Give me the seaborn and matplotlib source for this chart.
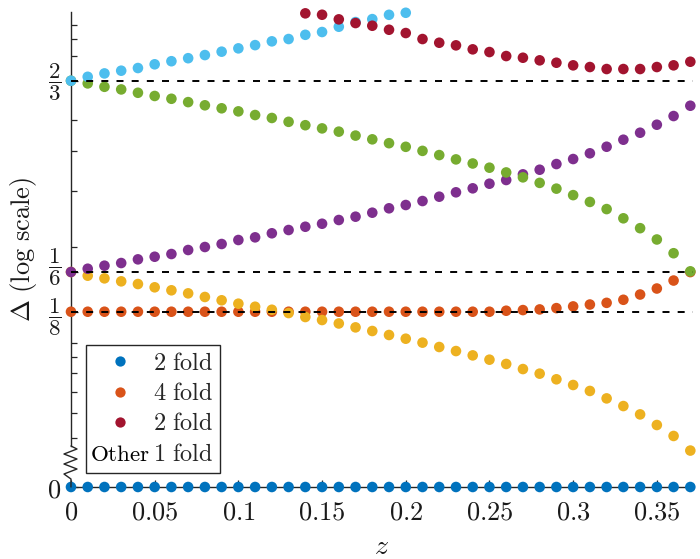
import numpy as np
import pandas as pd
import matplotlib
matplotlib.use("Agg")
import matplotlib.pyplot as plt
import seaborn as sns
from matplotlib.lines import Line2D
from matplotlib.text import Text
from matplotlib.legend_handler import HandlerBase
from matplotlib.ticker import FixedLocator, NullFormatter
from matplotlib.transforms import ScaledTranslation

# ---------------- data ----------------
z = [0.00, 0.01, 0.02, 0.03, 0.04, 0.05, 0.06, 0.07, 0.08, 0.09,
     0.10, 0.11, 0.12, 0.13, 0.14, 0.15, 0.16, 0.17, 0.18, 0.19,
     0.20, 0.21, 0.22, 0.23, 0.24, 0.25, 0.26, 0.27, 0.28, 0.29,
     0.30, 0.31, 0.32, 0.33, 0.34, 0.35, 0.36, 0.37]

two_fold_zero = [0.0, 0.0, 0.0, 0.0, 0.0, 0.0, 0.0, 0.0, 0.0, 0.0,
                 0.0, 0.0, 0.0, 0.0, 0.0, 0.0, 0.0, 0.0, 0.0, 0.0,
                 0.0, 0.0, 0.0, 0.0, 0.0, 0.0, 0.0, 0.0, 0.0, 0.0,
                 0.0, 0.0, 0.0, 0.0, 0.0, 0.0, 0.0, 0.0]

four_fold = [0.125, 0.125, 0.125, 0.125, 0.125, 0.125, 0.125, 0.125, 0.125, 0.125,
             0.125, 0.125, 0.125, 0.125, 0.125, 0.125, 0.125, 0.125, 0.125, 0.125,
             0.125, 0.125, 0.125, 0.125, 0.125, 0.125, 0.1259, 0.1265, 0.1271, 0.1283,
             0.1299, 0.1317, 0.1333, 0.1363, 0.1416, 0.1479, 0.1567, 0.1666]

yellow_1fold = [0.1667, 0.1623, 0.1592, 0.1558, 0.1528, 0.1492, 0.1460, 0.1428, 0.1391, 0.1358,
                0.1325, 0.1296, 0.1268, 0.1238, 0.1203, 0.1177, 0.1148, 0.1116, 0.1087, 0.1056,
                0.1028, 0.0999, 0.0968, 0.0940, 0.0911, 0.0883, 0.0856, 0.0825, 0.0798, 0.0766,
                0.0735, 0.0704, 0.0667, 0.0631, 0.0594, 0.0550, 0.0508, 0.0457]

purple_1fold = [0.1667, 0.1707, 0.1745, 0.1779, 0.1827, 0.1862, 0.1899, 0.1955, 0.1998, 0.2042,
                0.2102, 0.2143, 0.2207, 0.2260, 0.2314, 0.2365, 0.2430, 0.2489, 0.2562, 0.2645,
                0.2709, 0.2788, 0.2877, 0.2970, 0.3057, 0.3161, 0.3247, 0.3383, 0.3498, 0.3645,
                0.3780, 0.3940, 0.4132, 0.4348, 0.4574, 0.4847, 0.5162, 0.5562]

green_1fold = [0.6667, 0.654, 0.638, 0.626, 0.611, 0.597, 0.585, 0.571, 0.558, 0.546,
               0.534, 0.520, 0.509, 0.495, 0.483, 0.472, 0.461, 0.448, 0.436, 0.424,
               0.413, 0.401, 0.389, 0.377, 0.366, 0.355, 0.343, 0.331, 0.318, 0.305,
               0.291, 0.277, 0.263, 0.246, 0.229, 0.211, 0.191, 0.1675]

z_lightblue = [0.00, 0.01, 0.02, 0.03, 0.04, 0.05, 0.06, 0.07, 0.08, 0.09,
               0.10, 0.11, 0.12, 0.13, 0.14, 0.15, 0.16, 0.17, 0.18, 0.19, 0.20]
lightblue_1fold = [0.6667, 0.686, 0.703, 0.717, 0.731, 0.751, 0.768, 0.785, 0.803, 0.823,
                   0.843, 0.863, 0.887, 0.902, 0.930, 0.949, 0.986, 1.020, 1.042, 1.075, 1.091]

z_red = [0.14, 0.15, 0.16, 0.17, 0.18, 0.19, 0.20, 0.21, 0.22, 0.23, 0.24, 0.25,
         0.26, 0.27, 0.28, 0.29, 0.30, 0.31, 0.32, 0.33, 0.34, 0.35, 0.36, 0.37]
red_2fold = [1.0865, 1.0755, 1.0402, 1.0127, 0.9931, 0.9647, 0.9420, 0.9019, 0.8780, 0.8616,
             0.8370, 0.8208, 0.7973, 0.7876, 0.7729, 0.7596, 0.7454, 0.7363, 0.7257, 0.7257,
             0.7257, 0.7363, 0.7454, 0.7651]

ref_levels = [2 / 3, 1 / 6, 1 / 8]
xtick_vals = [0, 0.05, 0.1, 0.15, 0.2, 0.25, 0.3, 0.35]
xtick_labels = ["$0$", "$0.05$", "$0.1$", "$0.15$", "$0.2$", "$0.25$", "$0.3$", "$0.35$"]
ytick_vals = [0, 1 / 8, 1 / 6, 2 / 3]
ytick_labels = ["$0$", r"$\dfrac{1}{8}$", r"$\dfrac{1}{6}$", r"$\dfrac{2}{3}$"]
yminor_vals = [0.05, 0.06, 0.07, 0.08, 0.09, 0.1, 0.2, 0.3, 0.4, 0.5, 0.8, 0.9, 1.0]
legend_labels = [r"$\mathrm{2\ fold}$", r"$\mathrm{4\ fold}$", r"$\mathrm{2\ fold}$", r"$\mathrm{1\ fold}$"]
other_label = r"$\mathrm{Other}$"

C_BLUE, C_ORANGE, C_YELLOW, C_PURPLE, C_GREEN, C_LBLUE, C_RED = (
    "#0072BD", "#D95319", "#EDB120", "#7E2F8E", "#77AC30", "#4DBEEE", "#A2142F")
AXC = "#262626"
TXC = "#1a1a1a"

# ---------------- style ----------------
sns.set_theme(style="white")
plt.rcParams["font.family"] = ["DejaVu Serif"]
plt.rcParams["mathtext.fontset"] = "cm"

fig = plt.figure(figsize=(7.0, 5.59), dpi=100)
ax = fig.add_axes([0.1014, 0.1288, 0.8886, 0.8497])

# broken log scale: log for v >= V0, short linear stretch down to 0
V0 = 0.045
GAP = 0.2486
LV0 = np.log(V0)


def fwd(v):
    v = np.asarray(v, dtype=float)
    return np.where(v >= V0, np.log(np.maximum(v, V0)), LV0 - GAP * (1 - v / V0))


def inv(y):
    y = np.asarray(y, dtype=float)
    return np.where(y >= LV0, np.exp(np.minimum(y, 50)), V0 * (1 - (LV0 - y) / GAP))


ax.set_yscale("function", functions=(fwd, inv))

S = 58
series = [
    (z, two_fold_zero, C_BLUE),
    (z, four_fold, C_ORANGE),
    (z, yellow_1fold, C_YELLOW),
    (z, purple_1fold, C_PURPLE),
    (z, green_1fold, C_GREEN),
    (z_lightblue, lightblue_1fold, C_LBLUE),
    (z_red, red_2fold, C_RED),
]
for i, (xs, ys, c) in enumerate(series):
    df = pd.DataFrame({"z": xs, "delta": ys})
    sns.scatterplot(data=df, x="z", y="delta", ax=ax, color=c, s=S,
                    linewidth=0, edgecolor="none", clip_on=False,
                    zorder=3 + i * 0.01, legend=False)

for lv in ref_levels:
    ax.axhline(lv, color="black", lw=1.4, ls=(0, (3.6, 4.2)), zorder=5)

ax.set_xlim(0, 0.3716)
ax.set_ylim(0, 1.097)

sns.despine(ax=ax)
for sp in ("left", "bottom"):
    ax.spines[sp].set_color(AXC)
    ax.spines[sp].set_linewidth(1.0)
ax.spines["left"].set_bounds(0.0473, 1.097)

ax.xaxis.set_major_locator(FixedLocator(xtick_vals))
ax.set_xticklabels(xtick_labels)
ax.yaxis.set_major_locator(FixedLocator(ytick_vals))
ax.set_yticklabels(ytick_labels)
ax.yaxis.set_minor_locator(FixedLocator(yminor_vals))
ax.yaxis.set_minor_formatter(NullFormatter())

ax.tick_params(axis="both", which="both", direction="in", color=AXC,
               bottom=True, left=True, top=False, right=False, width=0.9)
ax.tick_params(axis="both", which="major", length=5)
ax.tick_params(axis="y", which="minor", length=4)
ax.tick_params(axis="x", which="major", labelsize=19, pad=9, labelcolor=TXC)
ax.tick_params(axis="y", which="major", labelsize=16.5, pad=7, labelcolor=TXC)

# per-label vertical nudges (pixels, + = up), as placed in the reference
label_shift_px = {"$0$": 0.0, ytick_labels[1]: -6.0, ytick_labels[2]: 4.5, ytick_labels[3]: -2.0}
for t in ax.get_yticklabels():
    txt = t.get_text()
    if txt == "$0$":
        t.set_fontsize(19)
    else:
        t.set_va("center")
        dy = label_shift_px.get(txt, 0.0) / 100.0
        t.set_transform(t.get_transform() + ScaledTranslation(0, dy, fig.dpi_scale_trans))

ax.set_xlabel("$z$", fontsize=20, labelpad=6, color=TXC)
ax.set_ylabel(r"$\Delta\ \mathrm{(log\ scale)}$", fontsize=19, labelpad=6, color=TXC)

# axis break zigzag
W, H = 622.0, 475.0
zz_px = [(0, 41), (6, 38), (-7, 33), (6, 28), (-7, 23), (6, 18), (-7, 13), (0, 8), (0, 0)]
ax.plot([p[0] / W for p in zz_px], [p[1] / H for p in zz_px], transform=ax.transAxes,
        color=AXC, lw=1.0, clip_on=False, zorder=6)


# legend
class OtherHandle:
    pass


class HandlerOther(HandlerBase):
    def create_artists(self, legend, orig_handle, xdescent, ydescent, width, height,
                       fontsize, trans):
        t = Text(width / 2 - xdescent, -ydescent, other_label,
                 ha="center", va="baseline", fontsize=fontsize * 0.95, color="black",
                 transform=trans)
        return [t]


mk = dict(marker="o", linestyle="none", markersize=7.4, markeredgewidth=0)
handles = [Line2D([], [], color=C_BLUE, **mk),
           Line2D([], [], color=C_ORANGE, **mk),
           Line2D([], [], color=C_RED, **mk),
           OtherHandle()]
leg = ax.legend(handles=handles, labels=legend_labels,
                handler_map={OtherHandle: HandlerOther()},
                loc="lower left", bbox_to_anchor=(0.0249, 0.0295), borderaxespad=0,
                fontsize=17.5, handlelength=2.2, handletextpad=0.22, labelspacing=0.3,
                borderpad=0.3, frameon=True, fancybox=False, framealpha=1)
leg.get_frame().set_edgecolor(AXC)
leg.get_frame().set_linewidth(1.0)
leg.set_zorder(10)

fig.savefig("out.png", dpi=100)
